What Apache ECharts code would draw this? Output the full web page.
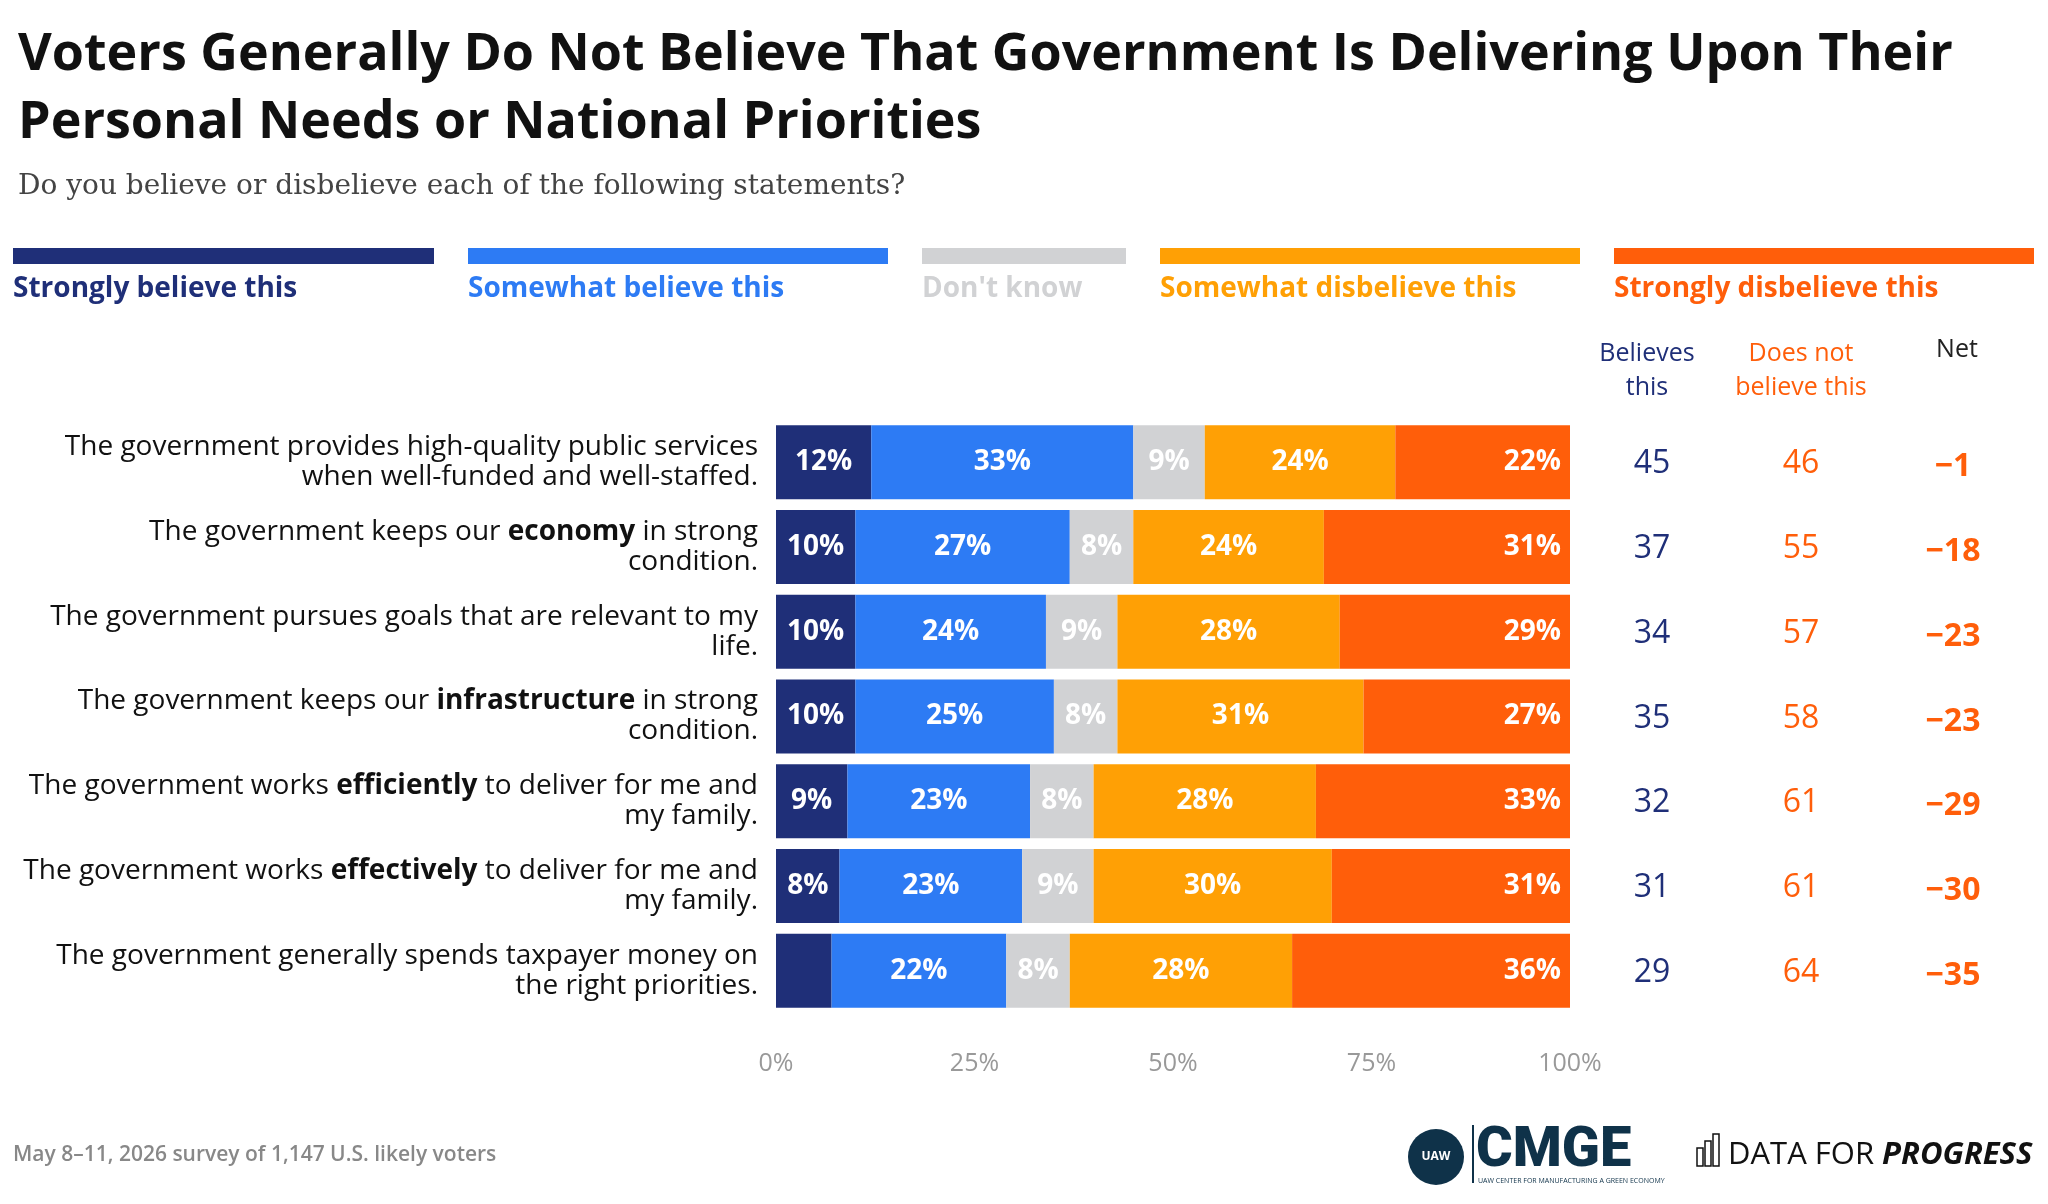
<!DOCTYPE html>
<html><head><meta charset="utf-8">
<script src="https://cdn.jsdelivr.net/npm/echarts@6/dist/echarts.min.js"></script>
<style>html,body{margin:0;padding:0;background:#fff}#c{width:2048px;height:1204px}</style>
</head><body><div id="c"></div>
<script>
const categories = [
 "The government provides high-quality public services\nwhen well-funded and well-staffed.",
 "The government keeps our {b|economy} in strong\ncondition.",
 "The government pursues goals that are relevant to my\nlife.",
 "The government keeps our {b|infrastructure} in strong\ncondition.",
 "The government works {b|efficiently} to deliver for me and\nmy family.",
 "The government works {b|effectively} to deliver for me and\nmy family.",
 "The government generally spends taxpayer money on\nthe right priorities."
];
const seriesNames = ["Strongly believe this","Somewhat believe this","Don't know","Somewhat disbelieve this","Strongly disbelieve this"];
const colors = ["#1f2f78","#2d7bf4","#d1d2d4","#ffa005","#ff5e0a"];
const stronglyBelieve = [12,10,10,10,9,8,7];
const somewhatBelieve = [33,27,24,25,23,23,22];
const dontKnow = [9,8,9,8,8,9,8];
const somewhatDisbelieve = [24,24,28,31,28,30,28];
const stronglyDisbelieve = [22,31,29,27,33,31,36];
const believes = [45,37,34,35,32,31,29];
const notBelieve = [46,55,57,58,61,61,64];
const net = [-1,-18,-23,-23,-29,-30,-35];
const xTicks = ["0%","25%","50%","75%","100%"];

const F = "'Open Sans', sans-serif";
const all = [stronglyBelieve,somewhatBelieve,dontKnow,somewhatDisbelieve,stronglyDisbelieve];
const chart = echarts.init(document.getElementById('c'));
const series = all.map((d,i)=>({
  name: seriesNames[i], type:'bar', stack:'a', data:d, barWidth:74,
  itemStyle:{color:colors[i]},
  label:{show:true, position: i===4?'insideRight':'inside', color:'#fff', fontFamily:F, fontWeight:'bold', fontSize:28,
    offset: i===4?[-4,0]:[0,0],
    formatter: p => (i===0 && p.value<8) ? '' : p.value+'%'}
}));
const legendX = [[13,434],[468,888],[922,1126],[1160,1580],[1614,2034]];
const graphic = [];
legendX.forEach((r,i)=>{
  graphic.push({type:'rect',shape:{x:r[0],y:248,width:r[1]-r[0],height:16},style:{fill:colors[i]}});
  graphic.push({type:'text',x:r[0],y:275,style:{text:seriesNames[i],fill:i===2?'#d1d2d4':colors[i],font:'bold 28px '+F}});
});
graphic.push({type:'text',x:1647,y:337,style:{text:'Believes\nthis',fill:'#1f2f78',font:'25px '+F,align:'center',lineHeight:34}});
graphic.push({type:'text',x:1801,y:337,style:{text:'Does not\nbelieve this',fill:'#ff5e0a',font:'25px '+F,align:'center',lineHeight:34}});
graphic.push({type:'text',x:1957,y:337,style:{text:'Net',fill:'#222',font:'25px '+F,align:'center'}});
graphic.push({type:'text',x:13,y:1145,style:{text:'May 8–11, 2026 survey of 1,147 U.S. likely voters',fill:'#888',font:'600 21px '+F}});
graphic.push({type:'circle',shape:{cx:1436,cy:1157,r:28},style:{fill:'#0f3249'}});
graphic.push({type:'text',x:1436,y:1157,style:{text:'UAW',fill:'#fff',font:'bold 12px '+F,align:'center',verticalAlign:'middle'}});
graphic.push({type:'rect',shape:{x:1472,y:1125,width:2,height:58},style:{fill:'#0f3249'}});
graphic.push({type:'text',x:1476,y:1124,style:{text:'CMGE',fill:'#0f3249',font:'900 56px Roboto, sans-serif'}});
graphic.push({type:'text',x:1478,y:1177,style:{text:'UAW CENTER FOR MANUFACTURING A GREEN ECONOMY',fill:'#0f3249',font:'7px '+F}});
[[1697,1148,8,18],[1705,1141,8,25],[1713,1134,8,32]].forEach(r=>graphic.push({type:'rect',shape:{x:r[0],y:r[1],width:r[2]-2,height:r[3]},style:{fill:'none',stroke:'#111',lineWidth:1.5}}));
graphic.push({type:'text',x:1728,y:1140,style:{rich:{a:{font:'31px '+F,fill:'#111'},b:{font:'italic bold 31px '+F,fill:'#111'}},text:'{a|DATA FOR }{b|PROGRESS}'}});

chart.setOption({
  animation:false,
  title:[{text:'Voters Generally Do Not Believe That Government Is Delivering Upon Their\nPersonal Needs or National Priorities',left:13,top:16,
    textStyle:{fontFamily:F,fontWeight:'bold',fontSize:52,color:'#111',lineHeight:68}},
    {text:'Do you believe or disbelieve each of the following statements?',left:13,top:168,
    textStyle:{fontFamily:'DejaVu Serif, serif',fontWeight:'normal',fontSize:28,color:'#444'}}],
  grid:{left:776,right:478,top:420,bottom:191},
  xAxis:{type:'value',min:0,max:100,interval:25,splitLine:{show:false},axisLine:{show:false},axisTick:{show:false},
    axisLabel:{formatter:v=>xTicks[v/25],color:'#999',fontFamily:F,fontSize:25,margin:38}},
  yAxis:{type:'category',inverse:true,data:categories,axisLine:{show:false},axisTick:{show:false},
    axisLabel:{color:'#111',fontFamily:F,fontSize:28,lineHeight:30,align:'right',margin:18,
      rich:{b:{fontWeight:'bold',fontSize:28,fontFamily:F,color:'#111'}}}},
  series, graphic
});
const extra = [];
categories.forEach((c,i)=>{
  const y = chart.convertToPixel({yAxisIndex:0}, i);
  extra.push({type:'text',x:1652,y:y+2,style:{text:String(believes[i]),fill:'#1f2f78',font:'32px '+F,align:'center',verticalAlign:'middle'}});
  extra.push({type:'text',x:1801,y:y+2,style:{text:String(notBelieve[i]),fill:'#ff5e0a',font:'32px '+F,align:'center',verticalAlign:'middle'}});
  extra.push({type:'text',x:1953,y:y+5,style:{text:'−'+Math.abs(net[i]),fill:'#ff5e0a',font:'bold 32px '+F,align:'center',verticalAlign:'middle'}});
});
chart.setOption({graphic: graphic.concat(extra)});
</script></body></html>
